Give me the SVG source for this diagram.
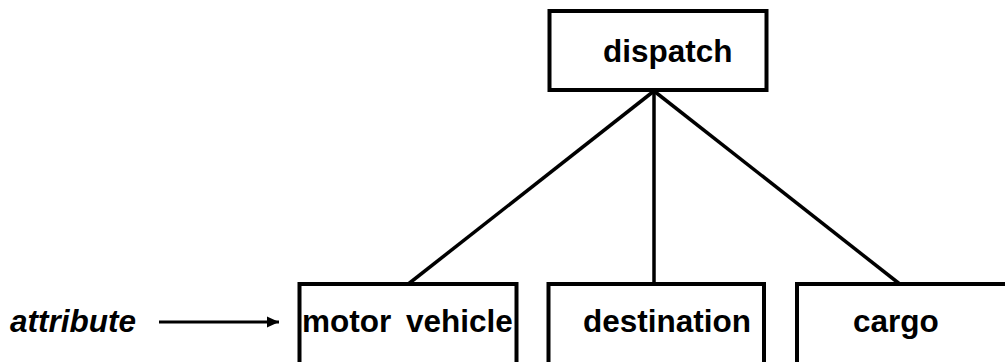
<svg xmlns="http://www.w3.org/2000/svg" width="1005" height="362" viewBox="0 0 1005 362">
<style>
.box{fill:#fff;stroke:#000;stroke-width:4}
.lbl{font-family:"Liberation Sans",Arial,sans-serif;font-weight:bold;font-size:31.5px;fill:#000}
.it{font-style:italic}
.con{stroke:#000;stroke-width:3.5;fill:none}
</style>
<defs>
<marker id="ah" markerWidth="12" markerHeight="12" refX="12" refY="6" orient="auto" markerUnits="userSpaceOnUse">
<path d="M0,0.5 L12,6 L0,11.5 Z" fill="#000"/>
</marker>
</defs>
<rect width="1005" height="362" fill="#fff"/>
<g id="connectors">
<line class="con" x1="654" y1="91" x2="407" y2="285"/>
<line class="con" x1="654" y1="91" x2="654" y2="285"/>
<line class="con" x1="654" y1="91" x2="901" y2="285"/>
<line x1="159" y1="322" x2="279" y2="322" stroke="#000" stroke-width="3" marker-end="url(#ah)"/>
</g>
<g id="dispatch">
<rect class="box" x="549.5" y="11" width="217" height="79"/>
<text class="lbl" x="603" y="62">dispatch</text>
</g>
<g id="motor-vehicle">
<rect class="box" x="299.5" y="284" width="217" height="100"/>
<text class="lbl" x="302" y="332" word-spacing="6">motor vehicle</text>
</g>
<g id="destination">
<rect class="box" x="548.5" y="284" width="215.5" height="100"/>
<text class="lbl" x="583" y="332">destination</text>
</g>
<g id="cargo">
<rect class="box" x="797" y="284" width="230" height="100"/>
<text class="lbl" x="853" y="332">cargo</text>
</g>
<g id="attribute">
<text class="lbl it" x="10" y="332">attribute</text>
</g>
</svg>
